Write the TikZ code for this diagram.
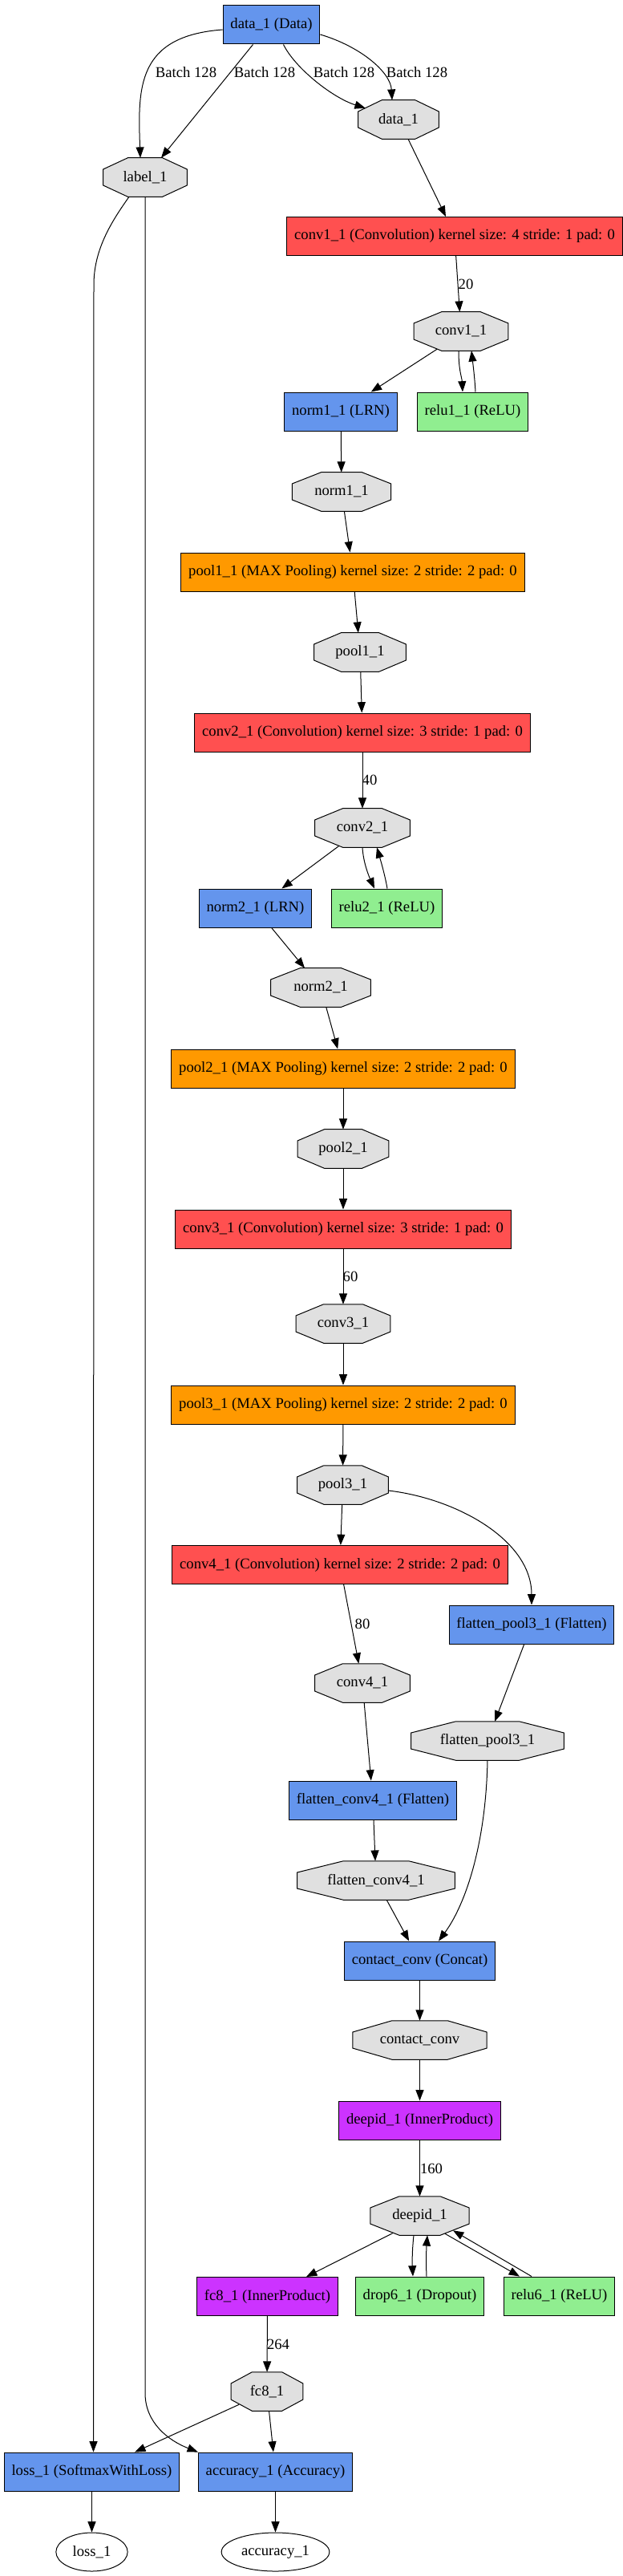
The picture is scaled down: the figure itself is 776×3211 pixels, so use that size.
\documentclass[tikz,border=0pt]{standalone}
\usepackage{fontspec}
\setmainfont{Liberation Serif}
\usepackage{xcolor}
\usetikzlibrary{arrows.meta,calc,backgrounds,shapes.geometric}

\definecolor{convred}{HTML}{FF5050}
\definecolor{poolorange}{HTML}{FF9900}
\definecolor{fcviolet}{HTML}{CC33FF}
\definecolor{layerblue}{HTML}{6495ED}
\definecolor{inplacegreen}{HTML}{90EE90}
\definecolor{blobgray}{HTML}{E0E0E0}

\tikzset{
    every node/.style={font=\fontsize{14}{16}\selectfont},
    layer/.style={draw, rectangle, line width=0.75pt, minimum height=36pt, inner xsep=7pt, fill=layerblue},
    convlayer/.style={layer, fill=convred},
    poollayer/.style={layer, fill=poolorange},
    fclayer/.style={layer, fill=fcviolet},
    inplace/.style={layer, fill=inplacegreen},
    blob/.style={rectangle, inner sep=0pt, minimum height=36pt, minimum width=#1},
    octo/.style={draw, fill=blobgray, line width=0.75pt},
    result/.style={ellipse, draw, fill=white, line width=0.75pt, inner sep=0pt, minimum height=36pt, minimum width=#1},
    flow/.style={line width=0.75pt, -{Triangle[length=10pt,width=7.5pt]}},
    dimlabel/.style={inner sep=1pt}
}

\begin{document}
\begin{tikzpicture}[x=0.75pt, y=-0.75pt]
    \useasboundingbox (0,0) rectangle (776,3211);

    % layers and blobs, top to bottom (pixel grid, y downwards)
    \node[layer] (data) at (338.5,31) {data\_1 (Data)};
    \node[blob=75pt] (dataB) at (497,149) {data\_1};
    \node[blob=78pt] (labelB) at (181,221) {label\_1};
    \node[convlayer] (conv1) at (567,294.5) {conv1\_1 (Convolution) kernel size: 4 stride: 1 pad: 0};
    \node[blob=88pt] (conv1B) at (575,413) {conv1\_1};
    \node[layer] (norm1) at (425,513) {norm1\_1 (LRN)};
    \node[inplace] (relu1) at (589.5,513) {relu1\_1 (ReLU)};
    \node[blob=92pt] (norm1B) at (426,613) {norm1\_1};
    \node[poollayer] (pool1) at (440,713) {pool1\_1 (MAX Pooling) kernel size: 2 stride: 2 pad: 0};
    \node[blob=85.5pt] (pool1B) at (449,813) {pool1\_1};
    \node[convlayer] (conv2) at (452,913) {conv2\_1 (Convolution) kernel size: 3 stride: 1 pad: 0};
    \node[blob=88.5pt] (conv2B) at (452,1032) {conv2\_1};
    \node[layer] (norm2) at (318.5,1132) {norm2\_1 (LRN)};
    \node[inplace] (relu2) at (482.5,1132) {relu2\_1 (ReLU)};
    \node[blob=93pt] (norm2B) at (400,1231) {norm2\_1};
    \node[poollayer] (pool2) at (428,1332) {pool2\_1 (MAX Pooling) kernel size: 2 stride: 2 pad: 0};
    \node[blob=85pt] (pool2B) at (428,1432) {pool2\_1};
    \node[convlayer] (conv3) at (428,1532) {conv3\_1 (Convolution) kernel size: 3 stride: 1 pad: 0};
    \node[blob=88pt] (conv3B) at (428,1650) {conv3\_1};
    \node[poollayer] (pool3) at (428,1751) {pool3\_1 (MAX Pooling) kernel size: 2 stride: 2 pad: 0};
    \node[blob=85pt] (pool3B) at (427.5,1851) {pool3\_1};
    \node[convlayer] (conv4) at (424,1950.5) {conv4\_1 (Convolution) kernel size: 2 stride: 2 pad: 0};
    \node[layer] (flatpool) at (663,2025) {flatten\_pool3\_1 (Flatten)};
    \node[blob=88.5pt] (conv4B) at (452,2098) {conv4\_1};
    \node[blob=142.5pt] (flatpoolB) at (608,2170) {flatten\_pool3\_1};
    \node[layer] (flatconv) at (465,2244) {flatten\_conv4\_1 (Flatten)};
    \node[blob=147pt] (flatconvB) at (469,2344) {flatten\_conv4\_1};
    \node[layer] (concat) at (523.5,2444) {contact\_conv (Concat)};
    \node[blob=125pt] (concatB) at (523.5,2543) {contact\_conv};
    \node[fclayer] (deepid) at (523.5,2643) {deepid\_1 (InnerProduct)};
    \node[blob=92pt] (deepidB) at (523.5,2762) {deepid\_1};
    \node[fclayer] (fc8) at (333.5,2862.5) {fc8\_1 (InnerProduct)};
    \node[inplace] (drop6) at (523.5,2862) {drop6\_1 (Dropout)};
    \node[inplace] (relu6) at (697.5,2862) {relu6\_1 (ReLU)};
    \node[blob=67pt] (fc8B) at (333,2981) {fc8\_1};
    \node[layer] (loss) at (114.5,3081) {loss\_1 (SoftmaxWithLoss)};
    \node[layer] (accuracy) at (343.5,3081) {accuracy\_1 (Accuracy)};
    \node[result=67pt] (lossE) at (114.5,3181) {loss\_1};
    \node[result=101pt] (accE) at (343.5,3181) {accuracy\_1};

    % blobs get their octagons behind the text
    \begin{scope}[on background layer]
        \foreach \blobname in {dataB,labelB,conv1B,norm1B,pool1B,conv2B,norm2B,pool2B,conv3B,pool3B,conv4B,flatpoolB,flatconvB,concatB,deepidB,fc8B} {
            \draw[octo] ($(\blobname.north west)!.293!(\blobname.north east)$)
                -- ($(\blobname.north east)!.293!(\blobname.north west)$)
                -- ($(\blobname.north east)!.293!(\blobname.south east)$)
                -- ($(\blobname.south east)!.293!(\blobname.north east)$)
                -- ($(\blobname.south east)!.293!(\blobname.south west)$)
                -- ($(\blobname.south west)!.293!(\blobname.south east)$)
                -- ($(\blobname.south west)!.293!(\blobname.north west)$)
                -- ($(\blobname.north west)!.293!(\blobname.south west)$) -- cycle;
        }
    \end{scope}

    % data splits into label and image
    \draw[flow] ($(data.west)+(0,6)$) .. controls (170,45) and (172,110) .. ($(labelB.north)+(-6,0)$);
    \draw[flow] ($(data.south)+(-23,0)$) -- ($(labelB.north)+(20,0)$);
    \draw[flow] ($(data.south)+(15,0)$) .. controls (368,85) and (415,122) .. ($(dataB.north west)+(9,10)$);
    \draw[flow] ($(data.east)+(0,12)$) .. controls (450,58) and (487,90) .. ($(dataB.north)+(-8,0)$);
    \node (batchA) at (232,90) {Batch 128};
    \node (batchB) at (330,90) {Batch 128};
    \node (batchC) at (429,90) {Batch 128};
    \node (batchD) at (520,90) {Batch 128};

    % first block
    \draw[flow] ($(dataB.south)+(12,0)$) -- ($(conv1.north)+(-11,0)$);
    \draw[flow] (conv1) -- (conv1B);
    \node[dimlabel] (lab20) at (581,354) {20};
    \draw[flow] ($(conv1B.south)+(-30,-2)$) -- (norm1);
    \draw[flow] ($(conv1B.south)+(-3,0)$) .. controls (572,462) and (576,470) .. ($(relu1.north)+(-12.5,0)$);
    \draw[flow] ($(relu1.north)+(3.5,0)$) .. controls (592,470) and (590,455) .. ($(conv1B.south)+(13,0)$);
    \draw[flow] (norm1) -- (norm1B);
    \draw[flow] (norm1B) -- (pool1);
    \draw[flow] (pool1) -- (pool1B);

    % second block
    \draw[flow] (pool1B) -- (conv2);
    \draw[flow] (conv2) -- (conv2B);
    \node[dimlabel] (lab40) at (461,972) {40};
    \draw[flow] ($(conv2B.south)+(-29,-2)$) -- (norm2);
    \draw[flow] (conv2B.south) .. controls (453,1075) and (460,1092) .. ($(relu2.north)+(-15.5,0)$);
    \draw[flow] ($(relu2.north)+(0.5,0)$) .. controls (480,1090) and (474,1070) .. ($(conv2B.south)+(18,0)$);
    \draw[flow] (norm2) -- (norm2B);
    \draw[flow] (norm2B) -- (pool2);
    \draw[flow] (pool2) -- (pool2B);

    % third block
    \draw[flow] (pool2B) -- (conv3);
    \draw[flow] (conv3) -- (conv3B);
    \node[dimlabel] (lab60) at (437,1591) {60};
    \draw[flow] (conv3B) -- (pool3);
    \draw[flow] (pool3) -- (pool3B);

    % two branches, joined again
    \draw[flow] (pool3B) -- (conv4);
    \draw[flow] ($(pool3B.east)+(0,7)$) .. controls (570,1868) and (663,1920) .. (flatpool.north);
    \draw[flow] (conv4) -- (conv4B);
    \node[dimlabel] (lab80) at (452,2024) {80};
    \draw[flow] (flatpool) -- (flatpoolB);
    \draw[flow] (conv4B) -- (flatconv);
    \draw[flow] (flatconv) -- (flatconvB);
    \draw[flow] (flatconvB) -- (concat);
    \draw[flow] (flatpoolB.south) .. controls (606,2300) and (580,2375) .. ($(concat.north)+(23.5,0)$);
    \draw[flow] (concat) -- (concatB);
    \draw[flow] (concatB) -- (deepid);
    \draw[flow] (deepid) -- (deepidB);
    \node[dimlabel] (lab160) at (538,2703) {160};

    % head
    \draw[flow] ($(deepidB.south)+(-33,-3)$) -- (fc8);
    \draw[flow] ($(deepidB.south)+(-7.5,0)$) .. controls (514,2805) and (514,2820) .. ($(drop6.north)+(-8.5,0)$);
    \draw[flow] ($(drop6.north)+(8.5,0)$) .. controls (531,2815) and (532,2800) .. ($(deepidB.south)+(9.5,0)$);
    \draw[flow] ($(deepidB.south)+(31.5,-2)$) -- ($(relu6.north)+(-49.5,0)$);
    \draw[flow] ($(relu6.north)+(-34.5,0)$) -- ($(deepidB.south)+(41.5,-6)$);
    \draw[flow] (fc8) -- (fc8B);
    \node[dimlabel] (lab264) at (347,2922) {264};
    \draw[flow] ($(fc8B.south west)+(10,-8)$) -- (loss);
    \draw[flow] (fc8B) -- (accuracy);
    \draw[flow] ($(labelB.south)+(-20,0)$) .. controls (140,275) and (117,310) .. (117,355) -- ($(loss.north)+(2,0)$);
    \draw[flow] (labelB.south) -- (181,2983) .. controls (181,3020) and (210,3042) .. (accuracy.north west);
    \draw[flow] (loss) -- (lossE);
    \draw[flow] (accuracy) -- (accE);
\end{tikzpicture}
\end{document}
